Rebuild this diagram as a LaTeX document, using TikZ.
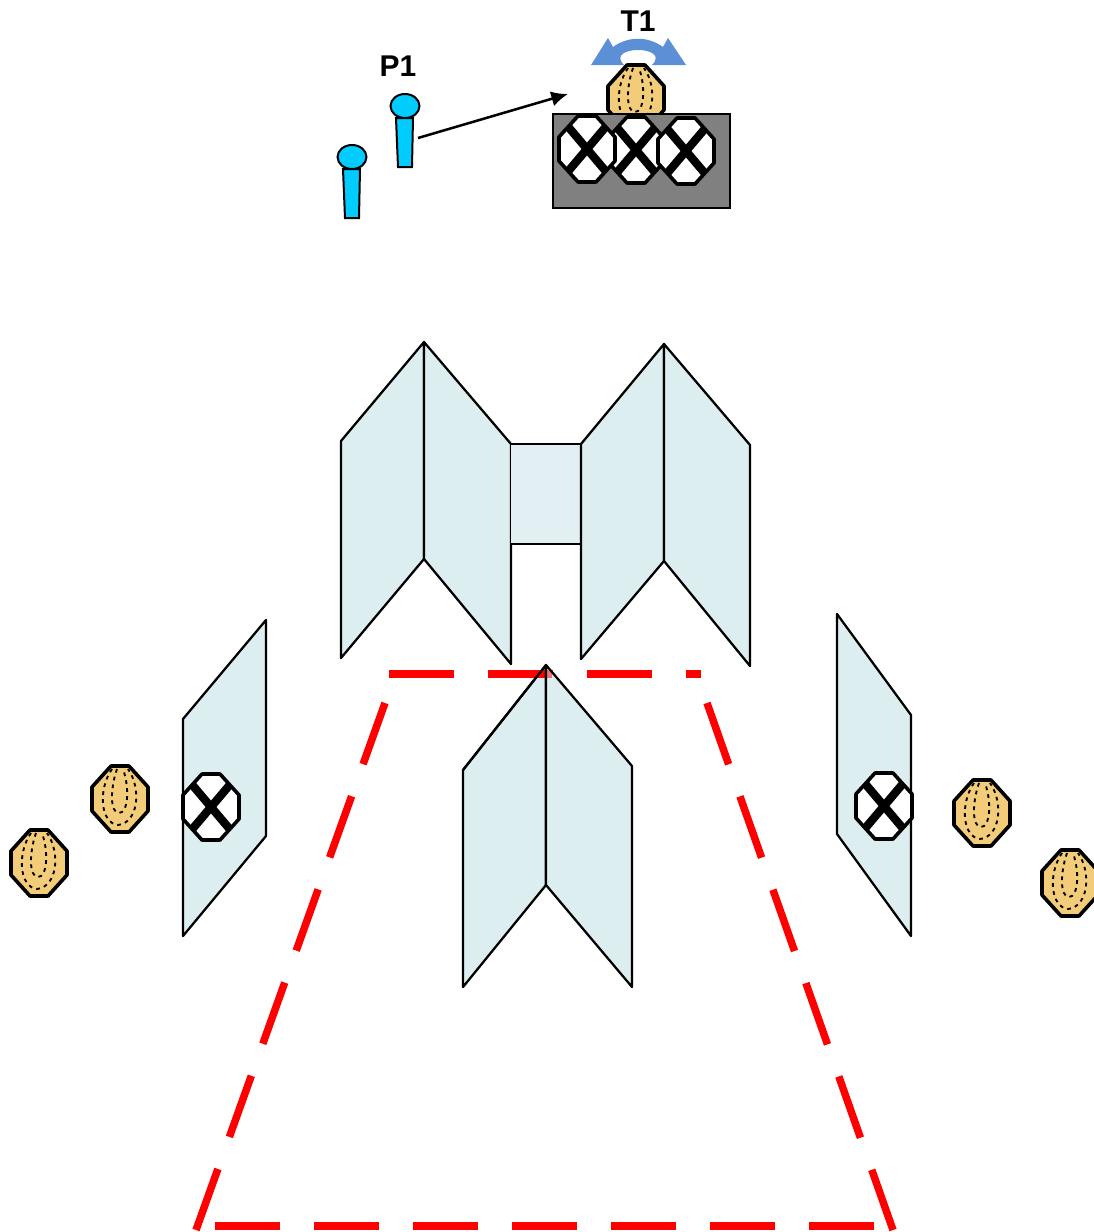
\documentclass[tikz,border=0pt]{standalone}
\usepackage{fontspec}
\setmainfont{Liberation Sans}
\usetikzlibrary{arrows.meta}
\definecolor{panel}{HTML}{DDEEF0}
\definecolor{panelb}{HTML}{E2F0F4}
\definecolor{shellc}{HTML}{F2CC78}
\definecolor{personc}{HTML}{00CCFF}
\definecolor{turnc}{HTML}{5B8FD6}
\definecolor{boxc}{HTML}{808080}
\tikzset{
 x=0.75pt,y=-0.75pt,
 panelst/.style={draw=black,fill=panel,line width=1.7pt,line join=round},
 octst/.style={draw=black,line width=2.7pt,line join=round},
 redst/.style={draw=red,line width=5.6pt,dash pattern=on 48.75pt off 25.5pt},
 personst/.style={draw=black,fill=personc,line width=1.5pt},
 labelst/.style={font=\bfseries\fontsize{22.5}{24}\selectfont,inner sep=0pt},
 shellpic/.pic={
  \path[octst,fill=shellc] (-9,-33)--(9,-33)--(28,-12)--(28,12)--(9,33)--(-9,33)--(-28,12)--(-28,-12)--cycle;
  \draw[black,line width=1.4pt,dash pattern=on 2.8pt off 3.2pt]
    (-8,-30) .. controls (-22,-10) and (-20,24) .. (-2,26) .. controls (18,24) and (22,-10) .. (8,-30)
    (-3,-30) .. controls (-10,-10) and (-10,14) .. (-1,14) .. controls (8,14) and (10,-10) .. (3,-30);
 },
 crosspic/.pic={
  \path[octst,fill=white] (-9,-33)--(9,-33)--(28,-12)--(28,12)--(9,33)--(-9,33)--(-28,12)--(-28,-12)--cycle;
  \begin{scope}
  \clip (-9,-33)--(9,-33)--(28,-12)--(28,12)--(9,33)--(-9,33)--(-28,12)--(-28,-12)--cycle;
  \draw[black,line width=6.2pt] (-22,-26)--(22,26) (22,-26)--(-22,26);
  \end{scope}
 }
}
\begin{document}
\begin{tikzpicture}
\useasboundingbox (0,0) rectangle (1094,1232);
% panels under the red field
\path[panelst] (463,770)--(546,665)--(546,885)--(463,987)--cycle;
% red field
\draw[redst] (389,674)--(701,674);
\draw[redst] (385,703)--(196,1230);
\draw[redst] (707,703)--(893,1230);
\draw[redst] (215,1226)--(875,1226);
% panels
\path[panelst] (341,441)--(424,342)--(424,559)--(341,658)--cycle;
\path[panelst] (424,342)--(511,444)--(511,664)--(424,559)--cycle;
\fill[panelb] (511,444) rectangle (581,544);
\draw[black,line width=1.2pt] (511,444)--(581,444) (511,544)--(581,544);
\path[panelst] (581,444)--(664,344)--(664,561)--(581,659)--cycle;
\path[panelst] (664,344)--(750,445)--(750,666)--(664,561)--cycle;
\draw[black,line width=1.7pt,line join=round] (463,770)--(546,665)--(546,885);
\fill[panel] (546,665)--(632,766)--(632,987)--(546,885)--cycle;
\fill[red,opacity=.5] (546,670) rectangle (552,678);
\draw[black,line width=1.7pt,line join=round] (546,665)--(632,766)--(632,987)--(546,885)--cycle;
\path[panelst] (183,719)--(266,620)--(266,836)--(183,936)--cycle;
\path[panelst] (837,614)--(911,715)--(911,936)--(837,834)--cycle;
% turn arrow
\fill[turnc] (591,65)--(608,38)--(613,47) .. controls (628,36) and (648,36) .. (663,47)--(668,38)--(686,65)--(652,65) .. controls (662,55) and (650,50) .. (638,50) .. controls (626,50) and (614,55) .. (624,65)--cycle;
% shell behind box, box, crosses
\pic at (636,98) {shellpic};
\draw[black,fill=boxc,line width=1.3pt] (553,114) rectangle (730,208);
\pic at (636,150) {crosspic};
\pic at (587,149) {crosspic};
\pic at (686,151) {crosspic};
\node[labelst] (t1) at (638,21) {T1};
\node[labelst] (p1) at (398,66) {P1};
% persons
\path[personst] (396,118)--(413,118)--(412,167)--(398,167)--cycle;
\path[personst] (405,106) ellipse [x radius=14.5,y radius=12];
\path[personst] (343,169)--(360,169)--(359,218)--(345,218)--cycle;
\path[personst] (352,157) ellipse [x radius=14.5,y radius=12];
\coordinate (a1) at (418,138);
\coordinate (a2) at (568,94);
\draw[black,line width=1.9pt,-{Latex[length=12.5pt,width=11.5pt]}] (a1)--(a2);
% shells
\pic at (120,799) {shellpic};
\pic at (39,863) {shellpic};
\pic at (982,813) {shellpic};
\pic at (1070,883) {shellpic};
\pic at (211,807) {crosspic};
\pic at (884,806) {crosspic};
\end{tikzpicture}
\end{document}
